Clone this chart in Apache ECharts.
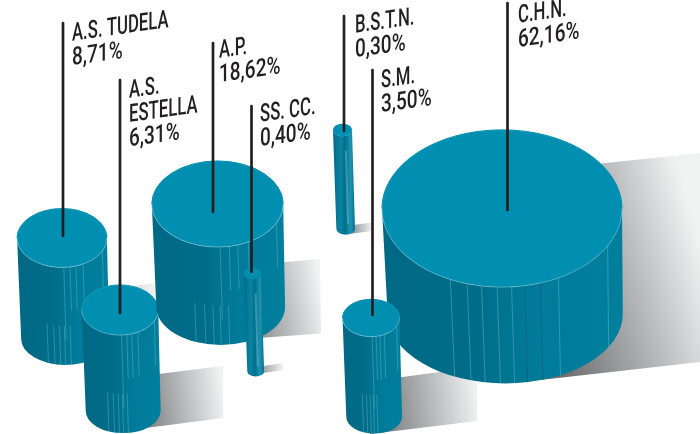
<!DOCTYPE html>
<html><head><meta charset="utf-8">
<style>html,body{margin:0;padding:0;background:#fff}#c{width:700px;height:434px}</style>
<script src="https://cdn.jsdelivr.net/npm/echarts@6/dist/echarts.min.js"></script>
</head><body><div id="c"></div>
<script>
// ---- data
var categories = ['A.S. TUDELA', 'A.S.\nESTELLA', 'A.P.', 'SS. CC.', 'B.S.T.N.', 'C.H.N.', 'S.M.'];
var shares = [8.71, 6.31, 18.62, 0.40, 0.30, 62.16, 3.50];

// ---- layout, in the page's own units (hidden 700 x 434 axes)
var centreX = [62, 120, 217.5, 252.5, 342.5, 502, 371];
var centreY = [238, 310, 204, 273.5, 130, 208.5, 318];
var columnDrop = [101, 101, 103, 98, 99, 105.5, 99];
var radiusTrim = [1, 1, 1, 0.89, 1.14, 1, 1];
var leaderX = [63, 120, 213, 251.5, 344, 507.5, 372.5];
var leaderTop = [23, 80, 43, 106, 16, 3, 70];
var leaderEnd = [236, 313, 212, 272, 131, 210, 315];
var labelX = [72, 129, 219, 260, 355, 518, 381];
var labelY = [22, 79, 39, 103, 14, 4, 69];
var shadows = [
  [[40,298],[157,283],[157,345],[40,360]],
  [[150,375],[223,366],[223,418],[130,430]],
  [[230,267],[320,259],[321,333.5],[230,340]],
  [[250,368],[283,363],[283,370],[250,375]],
  [[345,226],[372,222.5],[372,231],[345,234.5]],
  [[540,170],[700,153],[700,362],[540,380]],
  [[380,380],[477,367],[477,421],[370,434]]
];
var streaksUpper = [.04,.18,.31,.47,.9];
var streaksLower = [-.38,-.23,-.1,.01,.14];
var streaksFull = [-.43,-.29,-.17,-.04,.08,.47,.88];
var streaksDark = [.19,.32];

var RADIUS_PER_ROOT_SHARE = 120 / Math.sqrt(62.16);
var TOP_FLATTEN = 0.655, BASE_FLATTEN = 0.59, BASE_TAPER = 0.98, BASE_SHIFT = 3.2;
var FONT = '500 25px Roboto, "Liberation Sans", sans-serif';
var NAME_SQUEEZE = 0.67, SHARE_SQUEEZE = 0.76;
var INK = '#231f20';

function renderItem(params, api) {
  var i = api.value(0), share = api.value(1);
  var p = api.coord([centreX[i], centreY[i]]);
  var unit = api.size([1, 1]);
  var rx = Math.sqrt(share) * RADIUS_PER_ROOT_SHARE * radiusTrim[i] * unit[0];
  var ry = rx * TOP_FLATTEN;
  var bx = p[0] + BASE_SHIFT, by = p[1] + columnDrop[i] * unit[1];
  var brx = rx * BASE_TAPER, bry = brx * BASE_FLATTEN;
  var kids = [];
  var slim = rx < 12;

  // cast shadow
  var pts = shadows[i].map(function (q) { return api.coord(q); });
  kids.push({ type: 'polygon', z2: 1, shape: { points: pts }, style: {
    fill: new echarts.graphic.LinearGradient(0, .6, 1, .4, [
      { offset: 0, color: '#6d6e71' }, { offset: 1, color: '#f1f2f2' }]) } });

  // column side
  var side = 'M' + (p[0]-rx) + ' ' + p[1] +
    ' L' + (bx-brx) + ' ' + by +
    ' A' + brx + ' ' + bry + ' 0 0 0 ' + (bx+brx) + ' ' + by +
    ' L' + (p[0]+rx) + ' ' + p[1] +
    ' A' + rx + ' ' + ry + ' 0 0 1 ' + (p[0]-rx) + ' ' + p[1] + ' Z';
  var stops = slim ? [
    { offset: 0, color: '#006a87' }, { offset: .35, color: '#0a84a2' },
    { offset: .55, color: '#006f8d' }, { offset: .8, color: '#1f93ae' }, { offset: 1, color: '#00708e' }
  ] : [
    { offset: 0, color: '#006984' }, { offset: .4, color: '#006d8a' },
    { offset: .62, color: '#007a98' }, { offset: 1, color: '#007f9d' }
  ];
  var base = 30 + i;
  kids.push({ type: 'path', z2: base, shape: { pathData: side }, style: {
    fill: new echarts.graphic.LinearGradient(0, 0, 1, 0, stops) } });

  // vertical glints on the side
  function edgeY(cy, f, h) { return cy + h * Math.sqrt(Math.max(0, 1 - f * f)); }
  function glint(f, t0, t1, colour, op, w) {
    var tx = p[0] + rx * f, dx = bx + brx * f;
    var ty = edgeY(p[1], f, ry), dy = edgeY(by, f, bry);
    kids.push({ type: 'line', z2: base + .1, shape: {
      x1: tx + (dx-tx)*t0, y1: ty + (dy-ty)*t0, x2: tx + (dx-tx)*t1, y2: ty + (dy-ty)*t1 },
      style: { stroke: colour, lineWidth: w || .7, opacity: op } });
  }
  if (slim) {
    glint(.3, .15, .9, '#8fd0df', .35, 2);
  } else if (i === 5) {
    streaksFull.forEach(function (f) { glint(f, 0, 1, '#8fd0df', .5); });
    streaksDark.forEach(function (f) { glint(f, 0, 1, '#00566e', .7); });
  } else {
    streaksUpper.forEach(function (f, k) { glint(f, 0, k === 0 ? .75 : .45, '#8fd0df', .45); });
    streaksLower.forEach(function (f) { glint(f, .6, 1, '#8fd0df', .45); });
  }

  // top face
  kids.push({ type: 'ellipse', z2: base + .2, shape: { cx: p[0], cy: p[1], rx: rx, ry: ry }, style: {
    fill: '#008fb0', stroke: '#7fc4d5', lineWidth: slim ? 0 : .6 } });
  if (!slim) {
    var cap = 'M' + (p[0]-rx) + ' ' + p[1] + ' A' + rx + ' ' + ry + ' 0 0 1 ' + (p[0]+rx) + ' ' + p[1];
    kids.push({ type: 'path', z2: base + .3, shape: { pathData: cap }, style: { fill: null, stroke: '#008fb0', lineWidth: 1 } });
  }

  // leader
  var a = api.coord([leaderX[i], leaderTop[i]]), b = api.coord([leaderX[i], leaderEnd[i]]);
  kids.push({ type: 'line', z2: 100, shape: { x1: a[0], y1: a[1], x2: b[0], y2: b[1] },
    style: { stroke: INK, lineWidth: 2.7, lineCap: 'round' } });

  // label, one sheared element per line
  var lines = categories[i].split('\n');
  lines.push(share.toFixed(2).replace('.', ',') + '%');
  var at = api.coord([labelX[i], labelY[i]]);
  lines.forEach(function (t, k) {
    var isShare = k === lines.length - 1;
    kids.push({ type: 'text', z2: 101, x: at[0], y: at[1] + k * 24.3, skewY: 0.14,
      scaleX: isShare ? SHARE_SQUEEZE : NAME_SQUEEZE, silent: true,
      style: { text: t, font: FONT, fill: INK, textAlign: 'left', textBaseline: 'top' } });
  });
  return { type: 'group', children: kids };
}

var chart = echarts.init(document.getElementById('c'), null, { renderer: 'canvas' });
chart.setOption({
  animation: false,
  backgroundColor: '#ffffff',
  grid: { left: 0, right: 0, top: 0, bottom: 0 },
  xAxis: { type: 'value', min: 0, max: 700, show: false },
  yAxis: { type: 'value', min: 0, max: 434, inverse: true, show: false },
  series: [{
    type: 'custom',
    renderItem: renderItem,
    encode: { x: 0, y: 1 },
    clip: false,
    data: shares.map(function (s, i) { return [i, s]; })
  }]
});
</script></body></html>
